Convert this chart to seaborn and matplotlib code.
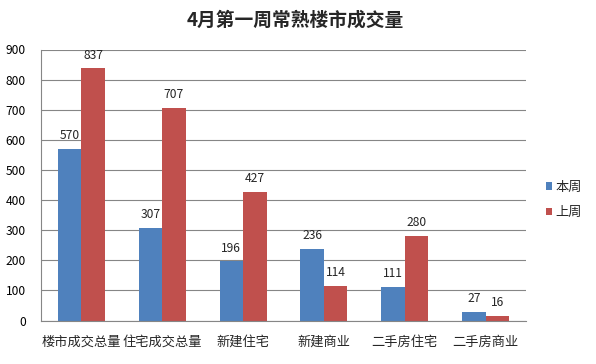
import matplotlib
matplotlib.use("Agg")
import matplotlib.pyplot as plt
import seaborn as sns
import pandas as pd

categories = ["楼市成交总量", "住宅成交总量", "新建住宅", "新建商业", "二手房住宅", "二手房商业"]
this_week = [570, 307, 196, 236, 111, 27]
last_week = [837, 707, 427, 114, 280, 16]
series_names = ["本周", "上周"]
title = "4月第一周常熟楼市成交量"

df = pd.DataFrame({
    "cat": categories * 2,
    "val": this_week + last_week,
    "series": [series_names[0]] * len(categories) + [series_names[1]] * len(categories),
})

sns.set_style("white")
plt.rcParams['font.family'] = ['Noto Sans CJK SC', 'DejaVu Sans']

fig = plt.figure(figsize=(5.96, 3.64), dpi=100)
L, R, T, B = 41, 526, 49.5, 320.5
ax = fig.add_axes([L/596, 1-B/364, (R-L)/596, (B-T)/364])

sns.barplot(data=df, x="cat", y="val", hue="series", order=categories,
            hue_order=series_names, palette=["#4F81BD", "#C0504D"],
            width=0.58, saturation=1, ax=ax, legend=True, linewidth=0,
            edgecolor="none")

ax.set_ylim(0, 900)
ax.set_yticks(range(0, 901, 100))
ax.set_xlim(-0.5, len(categories) - 0.5)
ax.yaxis.grid(True, color="#868686", linewidth=0.8)
ax.set_axisbelow(True)
for s in ["top", "right"]:
    ax.spines[s].set_visible(False)
for s in ["left", "bottom"]:
    ax.spines[s].set_color("#868686")
    ax.spines[s].set_linewidth(0.8)
ax.set_xlabel("")
ax.set_ylabel("")
ax.tick_params(axis="y", labelsize=8.7, length=0, pad=11, colors="#000000")
ax.tick_params(axis="x", labelsize=9.5, length=0, pad=11)

for cont in ax.containers:
    ax.bar_label(cont, padding=5, fontsize=8.7)

ax.legend(loc="center left", bbox_to_anchor=((534 - L)/(R - L), (B - 200)/(B - T)),
          frameon=False, fontsize=9.5, handlelength=0.45, handleheight=0.45,
          labelspacing=0.95, handletextpad=0.25)

fig.text(295/596, 1-20.5/364, title, ha="center", va="center", fontsize=13.5, fontweight="bold")

fig.savefig("out.png", dpi=100)
